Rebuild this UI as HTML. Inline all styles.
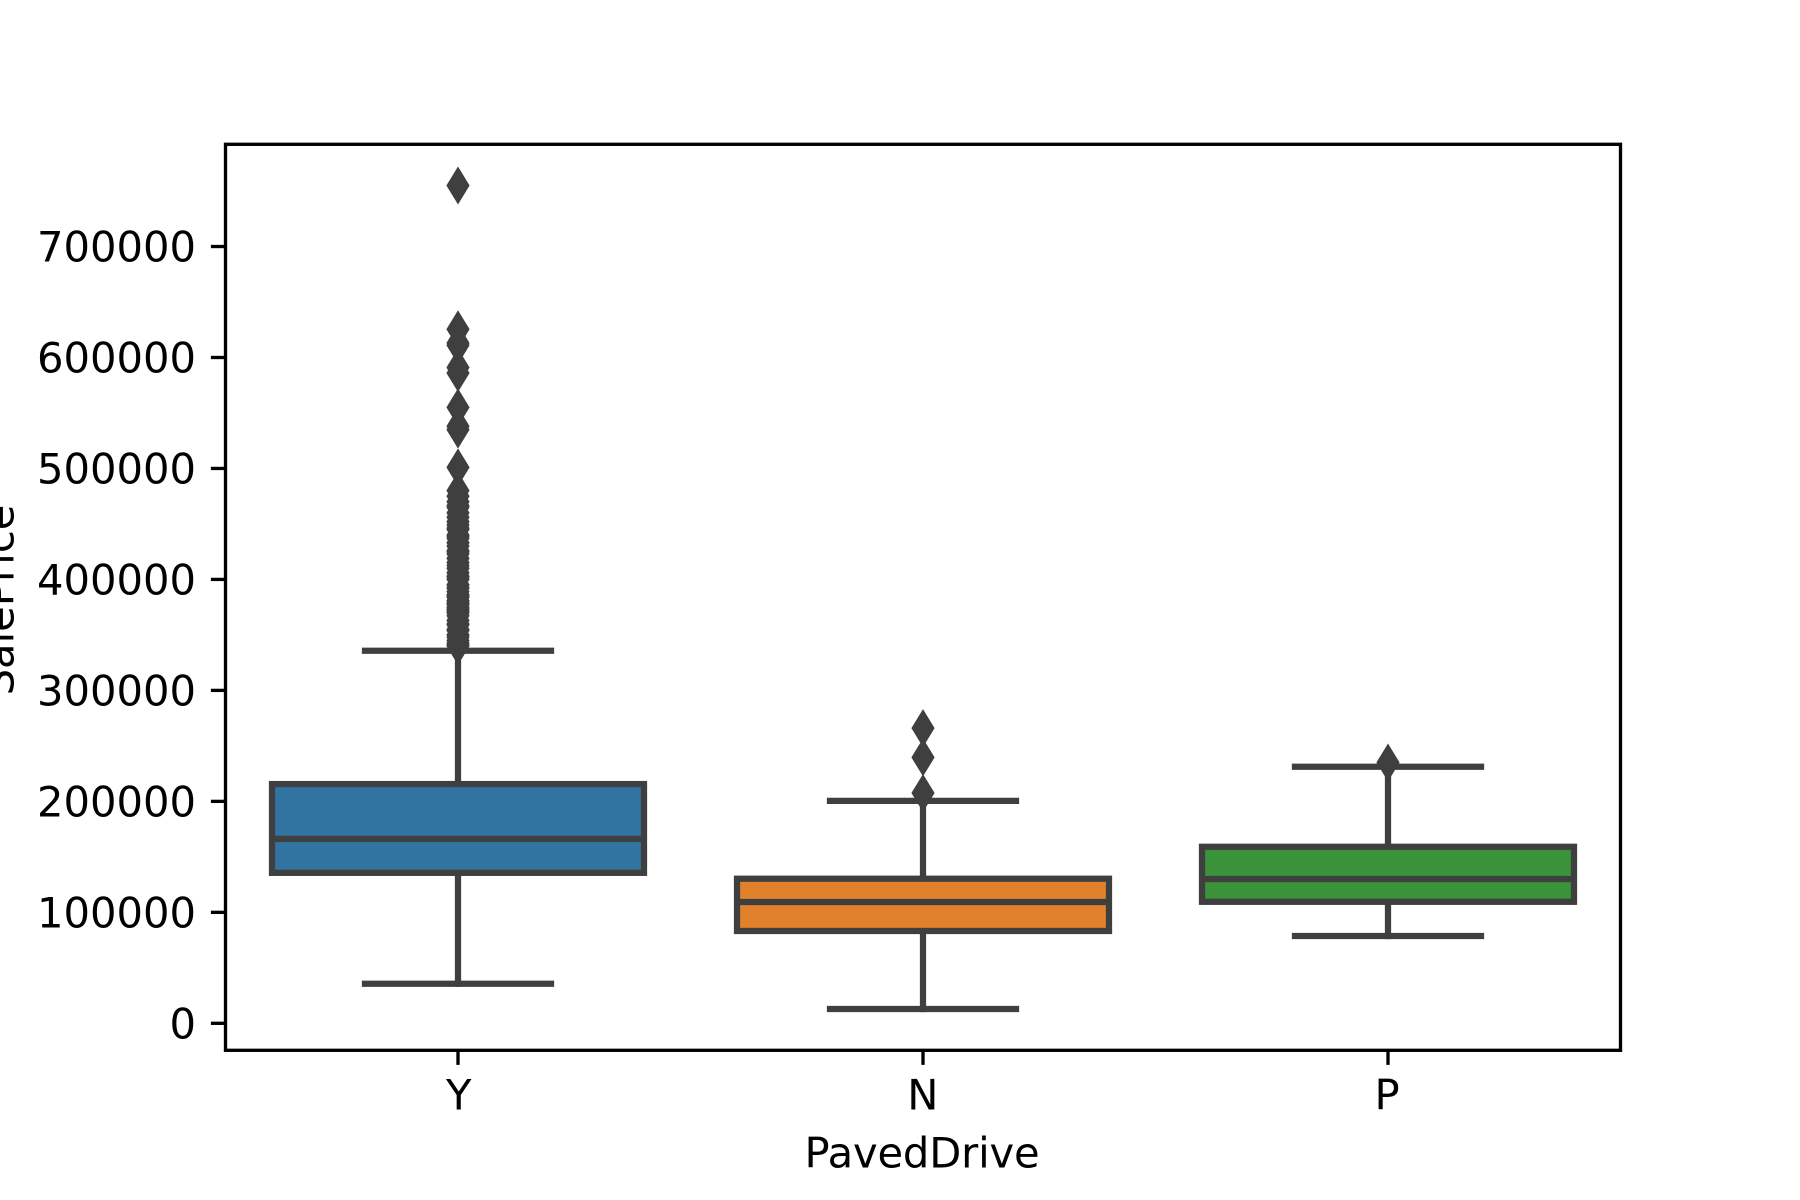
<!DOCTYPE html>
<html lang="en">
<head>
<meta charset="utf-8">
<title>SalePrice by PavedDrive</title>
<style>
html,body{margin:0;padding:0;background:#fff;}
svg{display:block;}
text{font-family:"DejaVu Sans","Liberation Sans",sans-serif;font-size:41.67px;fill:#000;}
</style>
</head>
<body>
<svg id="chart" xmlns="http://www.w3.org/2000/svg" width="1800" height="1200" viewBox="0 0 1800 1200"></svg>
<script>
// Data
const categories = ["Y", "N", "P"];
const boxColors = ["#3274a1", "#e1812c", "#3a923a"];
const q1Values = [135600, 83200, 109500];
const medianValues = [166200, 109300, 130000];
const q3Values = [215600, 130300, 159100];
const whiskerLowValues = [35700, 12900, 78700];
const whiskerHighValues = [335700, 200500, 231200];
const fliersY = [755000, 625500, 613000, 611000, 591000, 586000, 555000, 538000, 535000, 501000,
  480000, 475000, 470000, 466500, 465000, 460000, 456000, 451950, 449000, 446261, 445000, 440000,
  438780, 437154, 433000, 430000, 426000, 424870, 423000, 419000, 415298, 412500, 410000, 406000,
  403000, 402861, 402000, 400000, 395192, 395000, 392500, 392000, 389000, 386250, 385000, 384500,
  383970, 381000, 380000, 378500, 377500, 377426, 375000, 374000, 372500, 372402, 370878, 369900,
  367294, 363000, 360000, 359100, 355000, 354000, 350000, 348000, 345000, 342643, 341000, 340000];
const fliersN = [266000, 239600, 207500];
const fliersP = [235000];
const yTickValues = [0, 100000, 200000, 300000, 400000, 500000, 600000, 700000];
const yDomain = [-24321, 792110];
const xDomain = [-0.5, 2.5];
const xAxisTitle = "PavedDrive";
const yAxisTitle = "SalePrice";

const plotLeft = 225.5, plotRight = 1620.5, plotTop = 144.3, plotBottom = 1050.3;
const axisInk = "#000000", boxInk = "#3f3f3f";
const spineWidth = 3.33, tickLength = 14.6, boxLine = 6.25;
const boxWidthUnits = 0.8, capWidthUnits = 0.4;
const flierHalfW = 11.6, flierHalfH = 19;

const NS = "http://www.w3.org/2000/svg";
const svg = document.getElementById("chart");

function xScale(v) { return plotLeft + (v - xDomain[0]) / (xDomain[1] - xDomain[0]) * (plotRight - plotLeft); }
function yScale(v) { return plotBottom - (v - yDomain[0]) / (yDomain[1] - yDomain[0]) * (plotBottom - plotTop); }
function make(tag, attrs, parent) {
  const el = document.createElementNS(NS, tag);
  for (const k in attrs) el.setAttribute(k, attrs[k]);
  (parent || svg).appendChild(el);
  return el;
}

// Background
const background = make("rect", { x: 0, y: 0, width: 1800, height: 1200, fill: "#ffffff" });



// Boxes
const fliersByCategory = [fliersY, fliersN, fliersP];
categories.forEach(function (cat, i) {
  const key = cat.toLowerCase();
  const g = make("g", {});
  
  

  const cx = xScale(i);
  const boxL = xScale(i - boxWidthUnits / 2), boxR = xScale(i + boxWidthUnits / 2);
  const capL = xScale(i - capWidthUnits / 2), capR = xScale(i + capWidthUnits / 2);
  const yQ1 = yScale(q1Values[i]), yQ3 = yScale(q3Values[i]), yMed = yScale(medianValues[i]);
  const yLow = yScale(whiskerLowValues[i]), yHigh = yScale(whiskerHighValues[i]);
  const lineStyle = { stroke: boxInk, "stroke-width": boxLine, "stroke-linecap": "square" };

  const whiskerLow = make("line", Object.assign({ x1: cx, x2: cx, y1: yQ1, y2: yLow }, lineStyle), g);
  
  

  const whiskerHigh = make("line", Object.assign({ x1: cx, x2: cx, y1: yQ3, y2: yHigh }, lineStyle), g);
  
  

  const capLow = make("line", Object.assign({ x1: capL, x2: capR, y1: yLow, y2: yLow }, lineStyle), g);
  
  

  const capHigh = make("line", Object.assign({ x1: capL, x2: capR, y1: yHigh, y2: yHigh }, lineStyle), g);
  
  

  const box = make("rect", {
    x: boxL, y: yQ3, width: boxR - boxL, height: yQ1 - yQ3,
    fill: boxColors[i], stroke: boxInk, "stroke-width": boxLine, "stroke-linejoin": "miter"
  }, g);
  
  

  const median = make("line", { x1: boxL, x2: boxR, y1: yMed, y2: yMed, stroke: boxInk, "stroke-width": boxLine }, g);
  
  

  fliersByCategory[i].forEach(function (v) {
    const fy = yScale(v);
    const pts = [[cx, fy - flierHalfH], [cx + flierHalfW, fy], [cx, fy + flierHalfH], [cx - flierHalfW, fy]]
      .map(function (p) { return p.join(","); }).join(" ");
    const flier = make("polygon", { points: pts, fill: boxInk }, g);
    
    
  });
});

// Plot frame
const frame = make("rect", {
  x: plotLeft, y: plotTop, width: plotRight - plotLeft, height: plotBottom - plotTop,
  fill: "none", stroke: axisInk, "stroke-width": spineWidth, "stroke-linejoin": "miter"
});



// Y axis
yTickValues.forEach(function (v) {
  const y = yScale(v);
  const tick = make("line", { x1: plotLeft - tickLength, x2: plotLeft, y1: y, y2: y, stroke: axisInk, "stroke-width": spineWidth });
  
  
  const label = make("text", { x: plotLeft - 29.5, y: y + 15.2, "text-anchor": "end" });
  label.textContent = String(v);
  
  
});

// X axis
categories.forEach(function (cat, i) {
  const x = xScale(i);
  const tick = make("line", { x1: x, x2: x, y1: plotBottom, y2: plotBottom + tickLength, stroke: axisInk, "stroke-width": spineWidth });
  
  
  const label = make("text", { x: x, y: 1109.3, dx: 0.7 - 0.85 * i, "text-anchor": "middle" });
  label.textContent = cat;
  
  
});

// Axis titles
const xTitle = make("text", { x: (plotLeft + plotRight) / 2 - 1, y: 1167.4, "text-anchor": "middle", "letter-spacing": "-0.15" });
xTitle.textContent = xAxisTitle;



const yTitle = make("text", { x: 13.3, y: 600, "text-anchor": "middle", transform: "rotate(-90 13.3 600)" });
yTitle.textContent = yAxisTitle;


</script>
</body>
</html>
